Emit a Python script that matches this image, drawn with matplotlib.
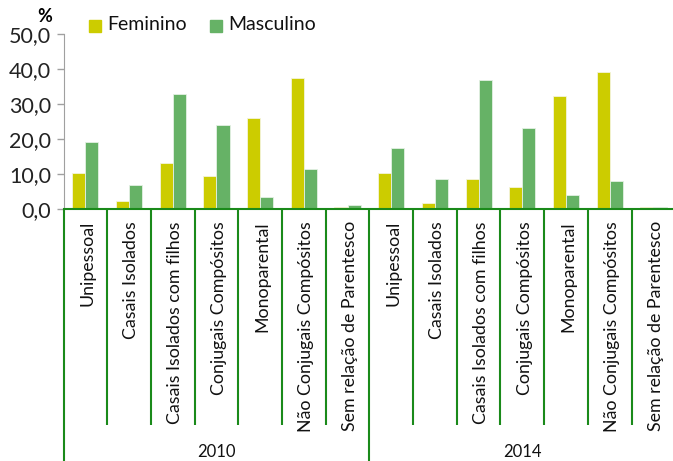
import matplotlib
matplotlib.use("Agg")
import matplotlib.pyplot as plt
import numpy as np
from matplotlib.patches import Rectangle

plt.rcParams['font.family'] = ['Lato', 'DejaVu Sans']

groups = ["2010", "2014"]
categories = ["Unipessoal", "Casais Isolados", "Casais Isolados com filhos",
              "Conjugais Compósitos", "Monoparental", "Não Conjugais Compósitos",
              "Sem relação de Parentesco"]
feminino_2010 = [10.3, 2.4, 13.2, 9.7, 26.2, 37.6, 0.7]
masculino_2010 = [19.4, 6.9, 33.0, 24.0, 3.5, 11.5, 1.2]
feminino_2014 = [10.3, 1.8, 8.6, 6.3, 32.4, 39.2, 0.7]
masculino_2014 = [17.7, 8.6, 36.9, 23.4, 4.1, 8.0, 0.6]
yticks = [0, 10, 20, 30, 40, 50]
ytick_labels = ["0,0", "10,0", "20,0", "30,0", "40,0", "50,0"]

W, H = 673, 461
fig = plt.figure(figsize=(W / 100, H / 100), dpi=100)
left_px, bottom_px, top_px, cat_w = 63.5, 209.5, 34.5, 43.7
n = len(categories) * len(groups)
ax = fig.add_axes([left_px / W, 1 - bottom_px / H, n * cat_w / W, (bottom_px - top_px) / H])

fem = feminino_2010 + feminino_2014
mas = masculino_2010 + masculino_2014
x = np.arange(n) + 0.5
bw = 0.3
yellow = "#CCCC00"
green = "#66B266"
ax.bar(x - bw / 2, fem, bw, color=yellow, edgecolor="#f4f4dc", linewidth=0.6)
ax.bar(x + bw / 2, mas, bw, color=green, edgecolor="#e4f0e4", linewidth=0.6)

ax.set_xlim(0, n)
ax.set_ylim(0, 50)
ax.set_yticks(yticks)
ax.set_yticklabels(ytick_labels, fontsize=15.5, color="#222222")
ax.tick_params(axis='y', length=5, color="#A0A0A0", width=1, pad=4)
ax.set_xticks([])
for s in ["top", "right"]:
    ax.spines[s].set_visible(False)
ax.spines["left"].set_color("#A0A0A0")
ax.spines["bottom"].set_color("#1a8a1a")
ax.spines["bottom"].set_linewidth(1.5)

ax_h = bottom_px - top_px
def px_to_axes(ypx):
    return (bottom_px - ypx) / ax_h

trans = ax.get_xaxis_transform()
dark_green = "#1a8a1a"
for i in range(n + 1):
    if i % len(categories) == 0:
        y_end = px_to_axes(H + 5)
    else:
        y_end = px_to_axes(425)
    ax.plot([i, i], [0, y_end], transform=trans, color=dark_green, lw=1.5,
            clip_on=False, solid_capstyle='butt')

label_top = px_to_axes(221)
for i in range(n):
    ax.text(x[i] + 0.05, label_top, categories[i % len(categories)], transform=trans,
            rotation=90, ha='center', va='top', fontsize=12.8, color="#111111")

for g, name in enumerate(groups):
    xc = g * len(categories) + len(categories) / 2
    ax.text(xc, px_to_axes(452), name, transform=trans, ha='center', va='center',
            fontsize=12, color="#111111")

fig.text(45 / W, 1 - 17 / H, "%", fontsize=13, fontweight='bold', ha='center', va='center')

# legend
for (xs, label, col) in [(89, "Feminino", yellow), (210, "Masculino", green)]:
    fig.patches.append(Rectangle((xs / W, 1 - 32 / H), 12 / W, 12 / H,
                                 transform=fig.transFigure, color=col))
    fig.text((xs + 18) / W, 1 - 25 / H, label, fontsize=14, ha='left', va='center', color="#111111")

fig.savefig("out.png", dpi=100)
